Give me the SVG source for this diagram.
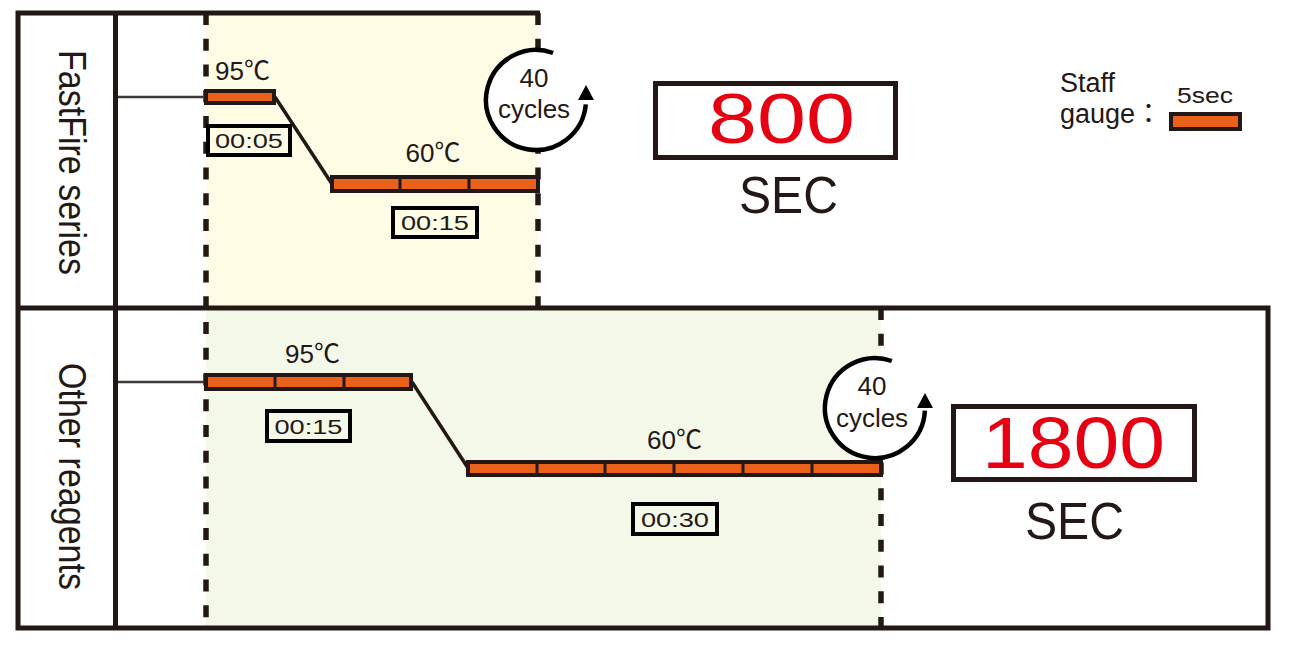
<svg xmlns="http://www.w3.org/2000/svg" width="1312" height="649" viewBox="0 0 1312 649">
<defs>
<style>
.frame{fill:none;stroke:#231815;stroke-width:5}
.dash{fill:none;stroke:#231815;stroke-width:5.5;stroke-dasharray:12 13.75}
.bar{fill:#E9611A;stroke:#231815;stroke-width:4}
.div{stroke:#231815;stroke-width:3}
.slope{stroke:#231815;stroke-width:3.5;fill:none}
.conn{stroke:#3e3a39;stroke-width:2.5}
.timer{fill:none;stroke:#000;stroke-width:4}
.ttxt{font-family:"Liberation Sans","DejaVu Sans",sans-serif;font-size:20px;fill:#231815;text-anchor:middle}
.lbl{font-family:"Liberation Sans","Noto Sans CJK JP",sans-serif;fill:#231815}
.temp{font-size:26px}
.cyc{font-size:26px;text-anchor:middle}
.arc{fill:none;stroke:#000;stroke-width:4.5}
.disp{fill:none;stroke:#231815;stroke-width:5}
.seg{font-family:"Liberation Sans","DejaVu Sans",sans-serif;text-anchor:middle}
</style>
</defs>
<rect width="1312" height="649" fill="#fff"/>
<g id="backgrounds">
<rect x="206" y="13" width="332" height="295" fill="#FEFCE5"/>
<rect x="206" y="308" width="675" height="320" fill="#F4F8E9"/>
</g>
<g id="frame">
<path class="frame" d="M540,13 H18 V628 H1268 V308 H18"/>
<line class="frame" x1="115.5" y1="13" x2="115.5" y2="628"/>
<line class="dash" x1="206" y1="13" x2="206" y2="628"/>
<line class="dash" x1="538" y1="13" x2="538" y2="308"/>
<line class="dash" x1="881" y1="308" x2="881" y2="628"/>
</g>
<g id="label-fastfire">
<text class="lbl" font-size="38" text-anchor="middle" textLength="225" lengthAdjust="spacingAndGlyphs" transform="translate(59,162.5) rotate(90)">FastFire series</text>
</g>
<g id="label-other">
<text class="lbl" font-size="38" text-anchor="middle" textLength="227" lengthAdjust="spacingAndGlyphs" transform="translate(59,476.5) rotate(90)">Other reagents</text>
</g>
<g id="connectors">
<line class="conn" x1="118" y1="97" x2="206" y2="97"/>
<line class="conn" x1="118" y1="382" x2="206" y2="382"/>
<line class="slope" x1="275" y1="97" x2="332" y2="184"/>
<line class="slope" x1="412" y1="382" x2="468" y2="468"/>
</g>
<g id="ff-95">
<text class="lbl temp" x="215" y="80" textLength="55" lengthAdjust="spacingAndGlyphs">95℃</text>
<rect class="bar" x="206" y="91" width="68" height="12"/>
<rect class="timer" x="208" y="126" width="82" height="29"/>
<text class="ttxt" x="249" y="147.5" textLength="68" lengthAdjust="spacingAndGlyphs">00:05</text>
</g>
<g id="ff-60">
<text class="lbl temp" x="433" y="162" text-anchor="middle" textLength="55" lengthAdjust="spacingAndGlyphs">60℃</text>
<rect class="bar" x="332" y="177" width="206" height="14"/>
<line class="div" x1="400" y1="177" x2="400" y2="191"/>
<line class="div" x1="469" y1="177" x2="469" y2="191"/>
<rect class="timer" x="393" y="208" width="84" height="29"/>
<text class="ttxt" x="435" y="229.5" textLength="68" lengthAdjust="spacingAndGlyphs">00:15</text>
</g>
<g id="ff-cycles">
<circle cx="536" cy="100" r="50" fill="#fff"/>
<path class="arc" d="M553.1,53 A50,50 0 1 0 585.8,104.4"/>
<polygon points="578,100 594,100 586,85" fill="#000"/>
<text class="lbl cyc" x="534" y="87">40</text>
<text class="lbl cyc" x="534" y="118">cycles</text>
</g>
<g id="ff-total">
<rect class="disp" x="655.5" y="83.5" width="240" height="74"/>
<text class="seg" x="781.5" y="143" font-size="70" fill="#E60012" textLength="147" lengthAdjust="spacingAndGlyphs">800</text>
<text class="seg" x="788.5" y="213" font-size="52" fill="#231815" textLength="99" lengthAdjust="spacingAndGlyphs">SEC</text>
</g>
<g id="legend">
<text class="lbl" x="1060" y="92" font-size="27">Staff</text>
<text class="lbl" x="1060" y="123" font-size="27">gauge：</text>
<text class="lbl" x="1177" y="103" font-size="22" textLength="56" lengthAdjust="spacingAndGlyphs">5sec</text>
<rect class="bar" x="1171" y="114" width="69" height="15"/>
</g>
<g id="or-95">
<text class="lbl temp" x="285" y="363" textLength="55" lengthAdjust="spacingAndGlyphs">95℃</text>
<rect class="bar" x="206" y="375" width="205" height="14"/>
<line class="div" x1="275" y1="375" x2="275" y2="389"/>
<line class="div" x1="344" y1="375" x2="344" y2="389"/>
<rect class="timer" x="267" y="411" width="83" height="30"/>
<text class="ttxt" x="308.5" y="433.5" textLength="68" lengthAdjust="spacingAndGlyphs">00:15</text>
</g>
<g id="or-60">
<text class="lbl temp" x="647" y="449" textLength="55" lengthAdjust="spacingAndGlyphs">60℃</text>
<rect class="bar" x="468" y="462" width="413" height="13"/>
<line class="div" x1="537" y1="462" x2="537" y2="475"/>
<line class="div" x1="605" y1="462" x2="605" y2="475"/>
<line class="div" x1="674" y1="462" x2="674" y2="475"/>
<line class="div" x1="743" y1="462" x2="743" y2="475"/>
<line class="div" x1="812" y1="462" x2="812" y2="475"/>
<rect class="timer" x="633" y="504" width="84" height="30"/>
<text class="ttxt" x="675" y="526.5" textLength="68" lengthAdjust="spacingAndGlyphs">00:30</text>
</g>
<g id="or-cycles">
<circle cx="875" cy="408" r="50" fill="#fff"/>
<path class="arc" d="M891.8,361 A50,50 0 1 0 924.9,410.6"/>
<polygon points="917,408 933,408 925,393" fill="#000"/>
<text class="lbl cyc" x="872" y="395">40</text>
<text class="lbl cyc" x="872" y="427">cycles</text>
</g>
<g id="or-total">
<rect class="disp" x="953.5" y="406.5" width="241" height="73"/>
<text class="seg" x="1073.5" y="468" font-size="72" fill="#E60012" textLength="183" lengthAdjust="spacingAndGlyphs">1800</text>
<text class="seg" x="1074.5" y="539" font-size="51" fill="#231815" textLength="99" lengthAdjust="spacingAndGlyphs">SEC</text>
</g>
</svg>
